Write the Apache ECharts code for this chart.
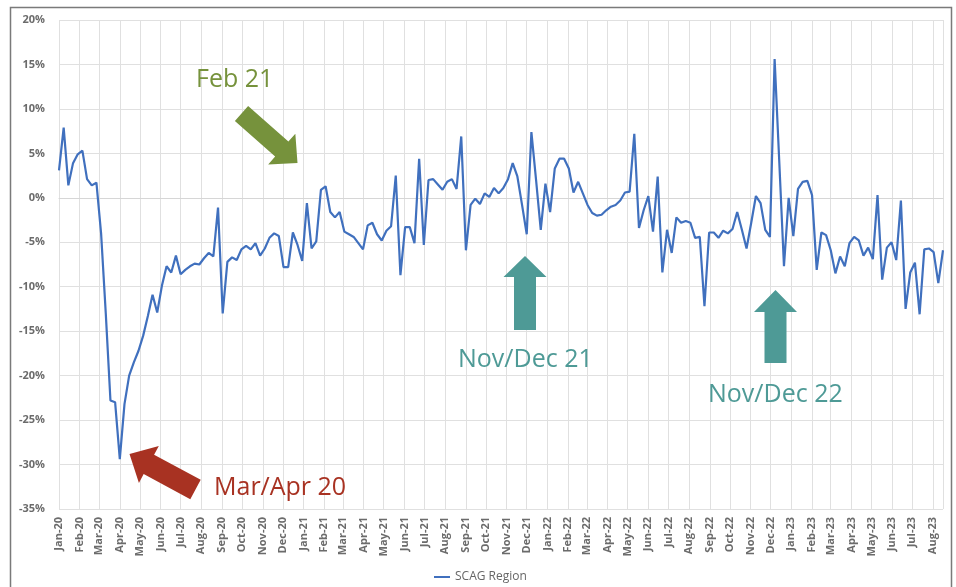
<!DOCTYPE html>
<html>
<head>
<meta charset="utf-8">
<title>SCAG Region weekly change</title>
<script src="https://cdn.jsdelivr.net/npm/echarts@6/dist/echarts.min.js"></script>
<style>
  html, body { margin: 0; padding: 0; background: #ffffff; }
  #chart { width: 956px; height: 587px; }
</style>
</head>
<body>
<div id="chart"></div>
<script>
// Weekly year-over-year change (%), first week of Jan 2020 through mid Aug 2023
const seriesName = 'SCAG Region';
const firstWeek = [2020, 0, 1];   // year, month index, day of the first weekly observation
const monthNames = ['Jan', 'Feb', 'Mar', 'Apr', 'May', 'Jun', 'Jul', 'Aug', 'Sep', 'Oct', 'Nov', 'Dec'];
const yTicks = { min: -35, max: 20, step: 5 };

const values2020 = [
  3.1, 7.9, 1.4, 3.9, 4.9, 5.3, 2.1, 1.4, 1.7, -4.0,
  -13.0, -22.8, -23.0, -29.4, -23.2, -20.0, -18.5, -17.2, -15.5, -13.3,
  -10.9, -12.9, -9.9, -7.7, -8.4, -6.5, -8.6, -8.1, -7.7, -7.4,
  -7.5, -6.8, -6.2, -6.6, -1.1, -13.0, -7.2, -6.7, -7.0, -5.8,
  -5.4, -5.8, -5.1, -6.5, -5.7, -4.5, -4.0, -4.3, -7.8, -7.8,
  -3.9, -5.3
];
const values2021 = [
  -7.1, -0.6, -5.7, -4.9, 0.9, 1.3, -1.6, -2.2,
  -1.6, -3.8, -4.1, -4.4, -5.1, -5.8, -3.1, -2.8, -4.1, -4.8,
  -3.7, -3.2, 2.5, -8.7, -3.3, -3.3, -5.1, 4.4, -5.3, 2.0,
  2.1, 1.5, 0.9, 1.8, 2.1, 1.0, 6.9, -5.9, -0.8, -0.1,
  -0.7, 0.5, 0.1, 1.1, 0.5, 1.1, 2.1, 3.9, 2.4, -0.8,
  -4.1, 7.4
];
const values2022 = [
  2.0, -3.6, 1.6, -1.6, 3.3, 4.4, 4.4, 3.3, 0.6, 1.8,
  0.5, -0.8, -1.7, -2.0, -1.9, -1.4, -1.0, -0.8, -0.3, 0.6,
  0.7, 7.2, -3.4, -1.4, 0.2, -3.8, 2.4, -8.4, -3.6, -6.2,
  -2.2, -2.8, -2.6, -2.8, -4.5, -4.4, -12.2, -3.9, -3.9, -4.5,
  -3.7, -4.0, -3.5, -1.6, -3.6, -5.7, -2.8, 0.2, -0.6, -3.6,
  -4.4, 15.6, 4.0
];
const values2023 = [
  -7.7, 0.0, -4.3, 1.0, 1.8, 1.9, 0.3, -8.1, -3.9, -4.2,
  -5.9, -8.5, -6.6, -7.7, -5.1, -4.4, -4.8, -6.5, -5.6, -6.9,
  0.3, -9.2, -5.6, -5.0, -7.0, -0.3, -12.5, -8.4, -7.3, -13.1,
  -5.8, -5.7, -6.1, -9.6, -5.9
];

const values = [].concat(values2020, values2021, values2022, values2023);
const weekDates = values.map((_, i) => new Date(firstWeek[0], firstWeek[1], firstWeek[2] + 7 * i).getTime());
const points = values.map((v, i) => [weekDates[i], v]);

const DAY = 24 * 3600 * 1000;
const textFont = '"Open Sans", "Noto Sans", sans-serif';
const axisGrey = '#6b6b6b';
const gridGrey = '#e0e0e0';

// Block arrow outline from tail centre to tip
function blockArrow(tail, tip, shaftW, headW, headL) {
  const dx = tip[0] - tail[0], dy = tip[1] - tail[1];
  const len = Math.sqrt(dx * dx + dy * dy);
  const ux = dx / len, uy = dy / len;
  const nx = -uy, ny = ux;
  const bx = tip[0] - ux * headL, by = tip[1] - uy * headL;
  const s = shaftW / 2, h = headW / 2;
  return [
    [tail[0] + nx * s, tail[1] + ny * s],
    [bx + nx * s, by + ny * s],
    [bx + nx * h, by + ny * h],
    [tip[0], tip[1]],
    [bx - nx * h, by - ny * h],
    [bx - nx * s, by - ny * s],
    [tail[0] - nx * s, tail[1] - ny * s]
  ];
}

const green = '#76923c';
const red = '#a83222';
const teal = '#4e9a96';
const noteFont = '25px ' + textFont;

const chart = echarts.init(document.getElementById('chart'), null, { renderer: 'canvas' });
chart.setOption({
  animation: false,
  backgroundColor: '#ffffff',
  grid: { left: 59, right: 13, top: 20, bottom: 78, containLabel: false },
  xAxis: {
    type: 'time',
    min: weekDates[0],
    max: weekDates[weekDates.length - 1],
    minInterval: 30 * DAY,
    maxInterval: 30 * DAY,
    axisLine: { show: true, lineStyle: { color: '#d6d6d6', width: 1 } },
    axisTick: { show: false },
    splitLine: { show: true, lineStyle: { color: gridGrey, width: 1 } },
    axisLabel: {
      rotate: 90,
      margin: 8,
      fontSize: 11,
      fontWeight: 'bold',
      fontFamily: textFont,
      color: axisGrey,
      hideOverlap: false,
      formatter: function (val) {
        const d = new Date(val);
        if (d.getDate() !== 1) return '';
        return monthNames[d.getMonth()] + '-' + String(d.getFullYear()).slice(2);
      }
    }
  },
  yAxis: {
    type: 'value',
    min: yTicks.min,
    max: yTicks.max,
    interval: yTicks.step,
    axisLine: { show: false },
    axisTick: { show: false },
    splitLine: { show: true, lineStyle: { color: gridGrey, width: 1 } },
    axisLabel: {
      margin: 14,
      fontSize: 11,
      fontWeight: 'bold',
      fontFamily: textFont,
      color: axisGrey,
      formatter: '{value}%'
    }
  },
  legend: {
    data: [{ name: seriesName, icon: 'rect' }],
    left: 434,
    top: 571,
    padding: 0,
    itemWidth: 16,
    itemHeight: 2,
    itemGap: 4,
    textStyle: { fontSize: 12, color: '#666666', fontFamily: textFont }
  },
  series: [{
    name: seriesName,
    type: 'line',
    data: points,
    showSymbol: false,
    symbol: 'none',
    lineStyle: { color: '#4070be', width: 2.2 },
    itemStyle: { color: '#4070be' }
  }],
  graphic: [
    {
      type: 'rect', silent: true, z: 0,
      shape: { x: 10.5, y: 7.5, width: 941, height: 600 },
      style: { fill: 'none', stroke: '#7a7a7a', lineWidth: 1.5 }
    },
    {
      type: 'polygon', z: 100,
      shape: { points: blockArrow([241.5, 113.5], [297.5, 163], 20, 41, 21) },
      style: { fill: green }
    },
    {
      type: 'text', z: 100, left: 196, top: 67,
      style: { text: 'Feb 21', fill: green, font: noteFont }
    },
    {
      type: 'polygon', z: 100,
      shape: { points: blockArrow([195.5, 489.5], [129.5, 454], 22, 42, 22) },
      style: { fill: red }
    },
    {
      type: 'text', z: 100, left: 214, top: 475,
      style: { text: 'Mar/Apr 20', fill: red, font: noteFont }
    },
    {
      type: 'polygon', z: 100,
      shape: { points: blockArrow([525, 330], [525, 256], 22, 43, 21) },
      style: { fill: teal }
    },
    {
      type: 'text', z: 100, left: 458, top: 347,
      style: { text: 'Nov/Dec 21', fill: teal, font: noteFont }
    },
    {
      type: 'polygon', z: 100,
      shape: { points: blockArrow([775.5, 363], [775.5, 290], 22, 43, 22) },
      style: { fill: teal }
    },
    {
      type: 'text', z: 100, left: 708, top: 382,
      style: { text: 'Nov/Dec 22', fill: teal, font: noteFont }
    }
  ]
});
</script>
</body>
</html>
